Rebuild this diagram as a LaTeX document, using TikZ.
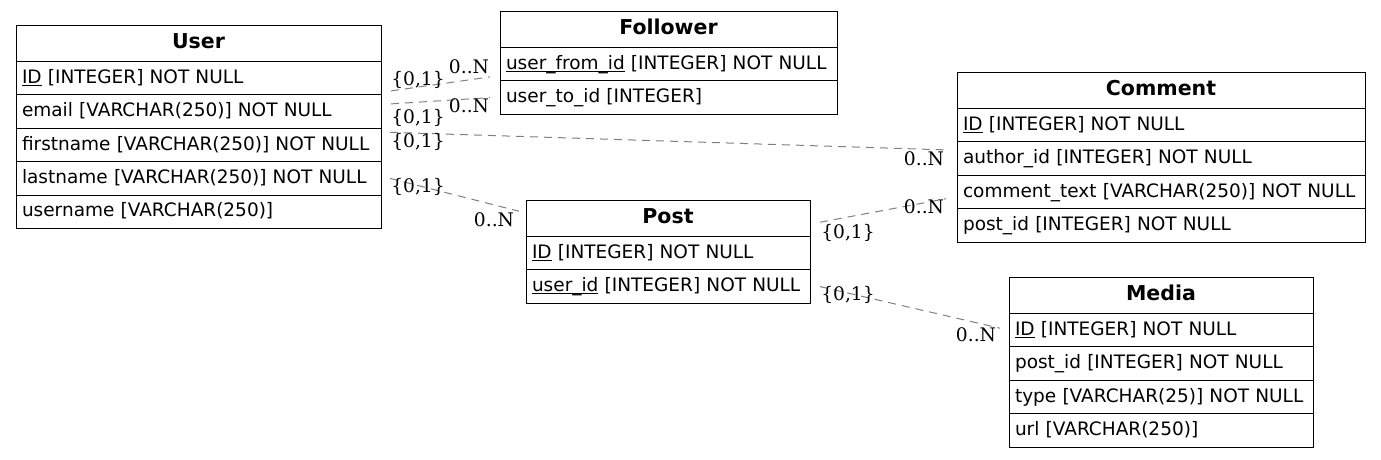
\documentclass[tikz,border=0pt]{standalone}
\usepackage{fontspec}
\setmainfont{DejaVu Sans}
\newfontfamily\cardfont{DejaVu Serif}
\usetikzlibrary{positioning}

\newcommand{\headsize}{\fontsize{20.5pt}{24pt}\selectfont\bfseries}
\newcommand{\rowsize}{\fontsize{18.5pt}{22pt}\selectfont}
\newcommand{\cardsize}{\cardfont\fontsize{18.67pt}{22pt}\selectfont}
\newcommand{\keycol}[1]{\setbox0\hbox{#1}\rlap{\rule[-2.6pt]{\wd0}{0.8pt}}\box0\relax}

\tikzset{
  tblhead/.style={draw, line width=1pt, outer sep=0pt, text width=#1, inner xsep=6pt, inner ysep=0pt,
    minimum height=36.5pt, text height=15pt, text depth=4pt, align=center, font=\headsize},
  tblrow/.style={draw, line width=1pt, outer sep=0pt, text width=#1, inner xsep=6pt, inner ysep=0pt,
    minimum height=33.4pt, text height=13.5pt, text depth=3.5pt, align=left, font=\rowsize},
  rel/.style={draw=gray, line width=1pt, dash pattern=on 8pt off 6pt},
  tailcard/.style={pos=0, font=\cardsize, inner sep=0pt},
  headcard/.style={pos=1, font=\cardsize, inner sep=0pt},
}

\begin{document}
\begin{tikzpicture}[x=1pt, y=-1pt]
  \useasboundingbox (0,0) rectangle (1381,459);

  \node[tblhead=353, anchor=north west] (User) at (16,25) {User};
  \node[tblrow=353, below=0pt of User]      (UserID)    {\keycol{ID} [INTEGER] NOT NULL};
  \node[tblrow=353, below=0pt of UserID]    (UserEmail) {email [VARCHAR(250)] NOT NULL};
  \node[tblrow=353, below=0pt of UserEmail] (UserFirst) {firstname [VARCHAR(250)] NOT NULL};
  \node[tblrow=353, below=0pt of UserFirst] (UserLast)  {lastname [VARCHAR(250)] NOT NULL};
  \node[tblrow=353, below=0pt of UserLast]  (UserName)  {username [VARCHAR(250)]};

  \node[tblhead=325, anchor=north west] (Follower) at (500,11) {Follower};
  \node[tblrow=325, below=0pt of Follower] (FolFrom) {\keycol{user\_from\_id} [INTEGER] NOT NULL};
  \node[tblrow=325, below=0pt of FolFrom]  (FolTo)   {user\_to\_id [INTEGER]};

  \node[tblhead=396, anchor=north west] (Comment) at (957,72) {Comment};
  \node[tblrow=396, below=0pt of Comment]   (ComID)     {\keycol{ID} [INTEGER] NOT NULL};
  \node[tblrow=396, below=0pt of ComID]     (ComAuthor) {author\_id [INTEGER] NOT NULL};
  \node[tblrow=396, below=0pt of ComAuthor] (ComText)   {comment\_text [VARCHAR(250)] NOT NULL};
  \node[tblrow=396, below=0pt of ComText]   (ComPost)   {post\_id [INTEGER] NOT NULL};

  \node[tblhead=272, anchor=north west] (Post) at (526,200) {Post};
  \node[tblrow=272, below=0pt of Post]   (PostID)   {\keycol{ID} [INTEGER] NOT NULL};
  \node[tblrow=272, below=0pt of PostID] (PostUser) {\keycol{user\_id} [INTEGER] NOT NULL};

  \node[tblhead=292, anchor=north west] (Media) at (1009,277) {Media};
  \node[tblrow=292, below=0pt of Media]     (MediaID)   {\keycol{ID} [INTEGER] NOT NULL};
  \node[tblrow=292, below=0pt of MediaID]   (MediaPost) {post\_id [INTEGER] NOT NULL};
  \node[tblrow=292, below=0pt of MediaPost] (MediaType) {type [VARCHAR(25)] NOT NULL};
  \node[tblrow=292, below=0pt of MediaType] (MediaUrl)  {url [VARCHAR(250)]};

  \draw[rel] ([xshift=10pt,yshift=4pt]UserID.south east)
    to node[tailcard, xshift=27pt, yshift=11pt] {\{0,1\}}
       node[headcard, xshift=-21pt, yshift=10pt] {0..N}
    ([xshift=-10pt,yshift=4pt]FolFrom.south west);
  \draw[rel] ([xshift=10pt,yshift=-9pt]UserEmail.north east)
    to node[tailcard, xshift=27pt, yshift=-14pt] {\{0,1\}}
       node[headcard, xshift=-21pt, yshift=-8pt] {0..N}
    ([xshift=-10pt]FolTo.west);
  \draw[rel] ([xshift=9pt,yshift=-4pt]UserFirst.north east)
    to node[tailcard, xshift=28pt, yshift=-10pt] {\{0,1\}}
       node[headcard, xshift=-22pt, yshift=-9pt] {0..N}
    ([xshift=-11pt,yshift=-8pt]ComAuthor.north west);
  \draw[rel] ([xshift=9pt]UserLast.east)
    to node[tailcard, xshift=28pt, yshift=-9pt] {\{0,1\}}
       node[headcard, xshift=-25pt, yshift=-8pt] {0..N}
    ([xshift=-7pt,yshift=7pt]Post.west);
  \draw[rel] ([xshift=10pt,yshift=-4pt]Post.east)
    to node[tailcard, xshift=28pt, yshift=-11pt] {\{0,1\}}
       node[headcard, xshift=-22pt, yshift=-8pt] {0..N}
    ([xshift=-11pt,yshift=10pt]ComText.south west);
  \draw[rel] ([xshift=10pt]PostUser.east)
    to node[tailcard, xshift=28pt, yshift=-8pt] {\{0,1\}}
       node[headcard, xshift=-24pt, yshift=-6pt] {0..N}
    ([xshift=-9pt,yshift=2pt]MediaID.west);
\end{tikzpicture}
\end{document}
